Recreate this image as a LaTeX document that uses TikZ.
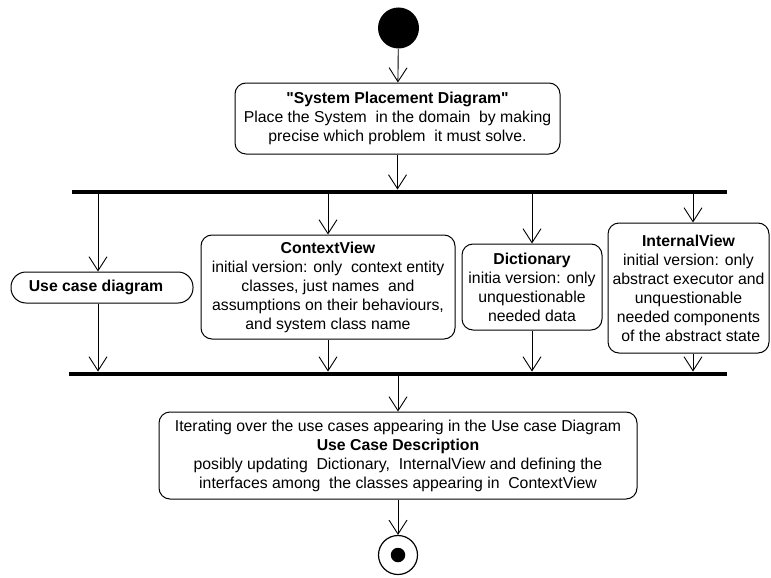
\documentclass[tikz,border=0pt]{standalone}
\usepackage{fontspec}
\setmainfont{Liberation Sans}[Ligatures=TeXOff]
\usetikzlibrary{arrows.meta}
\begin{document}
\begin{tikzpicture}[x=1pt,y=-1pt,
  every node/.style={font=\fontsize{15.8}{19}\selectfont},
  act/.style={draw,line width=1pt,rounded corners=11pt,align=center,inner sep=0pt},
  bar/.style={fill=black,inner sep=0pt,minimum height=4.5pt},
  arr/.style={line width=0.9pt,-{Straight Barb[length=14pt,width=18pt,line width=0.9pt]}}]
\useasboundingbox (0,0) rectangle (771,578);
\node[circle,fill=black,inner sep=0pt,minimum size=41pt] (start) at (398.5,28) {};
\node[act,minimum width=325pt,minimum height=71pt] (spd) at (397.5,118.5)
  {\textbf{"System Placement Diagram"}\\Place the System\ \ in the domain\ \ by making\\precise which problem\ \ it must solve.};
\node[bar,minimum width=655pt] (fork) at (399.5,192) {};
\node[act,rounded corners=15pt,minimum width=182pt,minimum height=31pt] (uc) at (102,287.5)
  {\hspace*{-12pt}\textbf{Use case diagram}};
\node[act,minimum width=254pt,minimum height=104pt] (cv) at (328,287)
  {\textbf{ContextView}\\initial version: only\ \ context entity\\classes, just names\ \ and\\assumptions on their behaviours,\\and system class name};
\node[act,minimum width=140pt,minimum height=86pt] (dic) at (532,287)
  {\textbf{Dictionary}\\initia version: only\\unquestionable\\needed data};
\node[act,minimum width=161pt,minimum height=130pt] (iv) at (688.5,288)
  {\textbf{InternalView}\\initial version: only\\abstract executor and\\unquestionable\\needed components\\\ of the abstract state};
\node[bar,minimum width=658pt] (join) at (398,374) {};
\node[act,minimum width=478pt,minimum height=87pt] (ucd) at (398,455.5)
  {Iterating over the use cases appearing in the Use case Diagram\\\textbf{Use Case Description}\\posibly updating\ \ Dictionary,\ \ InternalView and defining the\\interfaces among\ \ the classes appearing in\ \ ContextView};
\node[circle,draw,line width=1.2pt,inner sep=0pt,minimum size=39pt] (end) at (398,555) {};
\node[circle,fill=black,inner sep=0pt,minimum size=14.5pt] (endin) at (end.center) {};
\draw[arr] (start) -- (spd);
\draw[arr] (spd) -- (spd.south |- fork.north);
\draw[arr] ([xshift=-4pt]uc.north |- fork.south) -- ([xshift=-4pt]uc.north);
\draw[arr] (cv.north |- fork.south) -- (cv.north);
\draw[arr] (dic.north |- fork.south) -- (dic.north);
\draw[arr] ([xshift=4.5pt]iv.north |- fork.south) -- ([xshift=4.5pt]iv.north);
\draw[arr] ([xshift=-4pt]uc.south) -- ([xshift=-4pt]uc.south |- join.north);
\draw[arr] (cv.south) -- (cv.south |- join.north);
\draw[arr] (dic.south) -- (dic.south |- join.north);
\draw[arr] ([xshift=4.5pt]iv.south) -- ([xshift=4.5pt]iv.south |- join.north);
\draw[arr] (ucd.north |- join.south) -- (ucd.north);
\draw[arr] (ucd) -- (end);
\end{tikzpicture}
\end{document}
